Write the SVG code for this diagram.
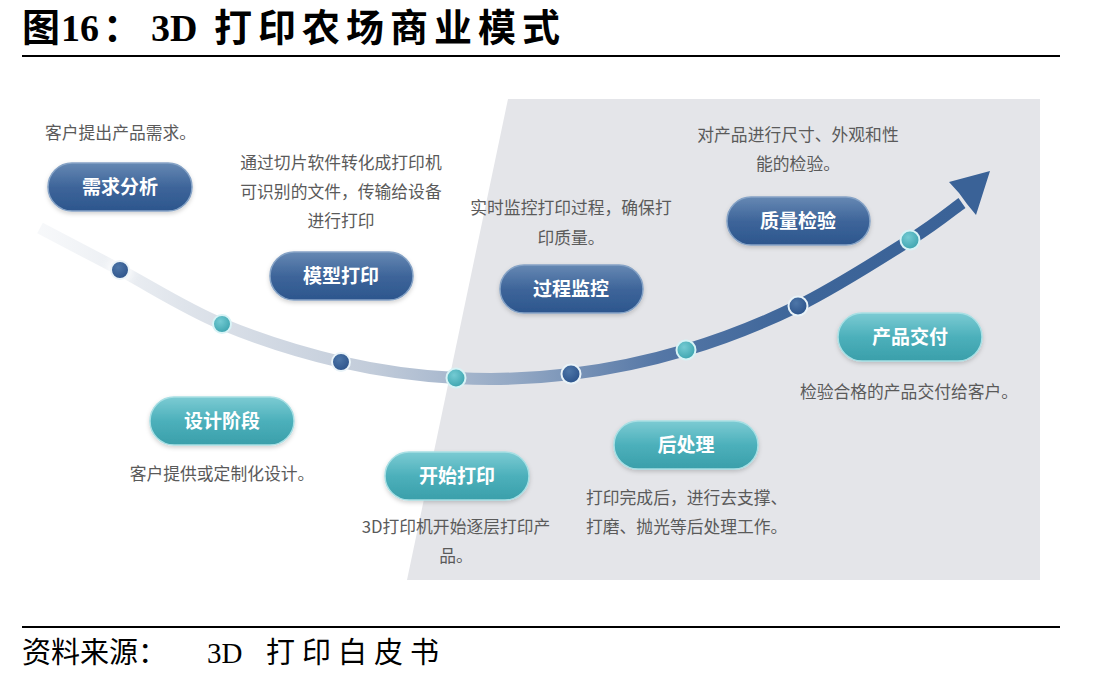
<svg xmlns="http://www.w3.org/2000/svg" width="1108" height="685" viewBox="0 0 1108 685">
<defs>
<style>
.t{font-family:"Noto Sans CJK SC","Liberation Sans",sans-serif;font-size:16.8px;fill:#5a5a5a}
.c{text-anchor:middle}
.p{font-family:"Noto Sans CJK SC","Liberation Sans",sans-serif;font-size:19px;font-weight:bold;fill:#ffffff;text-anchor:middle}
.dk{fill:url(#gDark);stroke:#86a3c6;stroke-width:1.5}
.tl{fill:url(#gTeal);stroke:#a8dfe4;stroke-width:1.5}
.dd{fill:url(#dDark);stroke:#e9f3f8;stroke-width:2}
.dt{fill:url(#dTeal);stroke:#d8f3f6;stroke-width:2}
</style>
<linearGradient id="gDark" x1="0" y1="0" x2="0" y2="1">
<stop offset="0" stop-color="#6688b3"/><stop offset="0.5" stop-color="#3e659a"/><stop offset="1" stop-color="#2c568d"/>
</linearGradient>
<linearGradient id="gTeal" x1="0" y1="0" x2="0" y2="1">
<stop offset="0" stop-color="#7ccbd3"/><stop offset="0.5" stop-color="#4cb0bb"/><stop offset="1" stop-color="#3a9faa"/>
</linearGradient>
<radialGradient id="dDark" cx="0.4" cy="0.35" r="0.7">
<stop offset="0" stop-color="#4d76a8"/><stop offset="1" stop-color="#2a5189"/>
</radialGradient>
<radialGradient id="dTeal" cx="0.4" cy="0.35" r="0.7">
<stop offset="0" stop-color="#74cbd3"/><stop offset="1" stop-color="#3aa2ad"/>
</radialGradient>
<linearGradient id="gCurve" gradientUnits="userSpaceOnUse" x1="40" y1="0" x2="990" y2="0">
<stop offset="0" stop-color="#eef1f5" stop-opacity="0.5"/>
<stop offset="0.15" stop-color="#dfe4eb"/>
<stop offset="0.35" stop-color="#c2ccda"/>
<stop offset="0.5" stop-color="#93a8c4"/>
<stop offset="0.65" stop-color="#5577a6"/>
<stop offset="0.8" stop-color="#3d6599"/>
<stop offset="1" stop-color="#3a6297"/>
</linearGradient>
<filter id="sh" x="-20%" y="-30%" width="140%" height="170%">
<feDropShadow dx="0" dy="2" stdDeviation="2" flood-color="#000" flood-opacity="0.18"/>
</filter>
<filter id="glow" x="-50%" y="-50%" width="200%" height="200%">
<feGaussianBlur stdDeviation="4"/>
</filter>
</defs>
<rect width="1108" height="685" fill="#ffffff"/>

<!-- title -->
<g id="title" font-family="'Liberation Serif','Noto Sans CJK SC',serif" font-weight="bold" font-size="38" fill="#000">
<text x="22" y="41">图</text>
<text x="61" y="41">16</text>
<text x="103" y="41">：</text>
<text x="151" y="41">3D</text>
<text x="214" y="41" letter-spacing="6">打印农场商业模式</text>
</g>
<line x1="22" y1="56" x2="1060" y2="56" stroke="#000" stroke-width="2"/>

<!-- gray background -->
<polygon id="bg" points="508,99 1040,99 1040,580 407,580" fill="#e4e5e9"/>

<!-- connectors: curve and arrow -->
<g id="connectors">
<path d="M40,228 C53.3,235 89.7,254 120,270 C150.3,286 185.2,308.7 222,324 C258.8,339.3 302,353 341,362 C380,371 417.7,376 456,378 C494.3,380 532.7,378.7 571,374 C609.3,369.3 648.2,361.3 686,350 C723.8,338.7 760.7,324.3 798,306 C835.3,287.7 882.7,257.2 910,240 C937.3,222.8 953.3,209.2 962,203" fill="none" stroke="url(#gCurve)" stroke-width="12" stroke-linecap="butt"/>
<polygon points="990,171 949,182 959,193 967,204 976,215" fill="#3a6297"/>
</g>

<!-- dots -->
<g id="dots">
<circle cx="120" cy="270" r="13" fill="#fff" opacity="0.8" filter="url(#glow)"/>
<circle class="dd" cx="120" cy="270" r="9"/>
<circle class="dt" cx="222" cy="324" r="9"/>
<circle class="dd" cx="341" cy="362" r="9"/>
<circle class="dt" cx="456" cy="378" r="9.5"/>
<circle class="dd" cx="571" cy="374" r="9.5"/>
<circle class="dt" cx="686" cy="350" r="9.5"/>
<circle class="dd" cx="798" cy="306" r="9.5"/>
<circle class="dt" cx="910" cy="240" r="9.5"/>
</g>

<!-- nodes -->
<g id="n1">
<text class="t" x="45" y="139">客户提出产品需求。</text>
<rect class="dk" x="48" y="163" width="144" height="48" rx="24" filter="url(#sh)"/>
<text class="p" x="120" y="194">需求分析</text>
</g>
<g id="n2">
<rect class="tl" x="150" y="397" width="144" height="48" rx="24" filter="url(#sh)"/>
<text class="p" x="222" y="428">设计阶段</text>
<text class="t c" x="222" y="480">客户提供或定制化设计。</text>
</g>
<g id="n3">
<text class="t c" x="341" y="169">通过切片软件转化成打印机</text>
<text class="t c" x="341" y="198">可识别的文件，传输给设备</text>
<text class="t c" x="341" y="227">进行打印</text>
<rect class="dk" x="270" y="252" width="143" height="48" rx="24" filter="url(#sh)"/>
<text class="p" x="341" y="283">模型打印</text>
</g>
<g id="n4">
<rect class="tl" x="385" y="452" width="144" height="48" rx="24" filter="url(#sh)"/>
<text class="p" x="457" y="483">开始打印</text>
<text class="t c" x="456" y="533">3D打印机开始逐层打印产</text>
<text class="t c" x="456" y="562">品。</text>
</g>
<g id="n5">
<text class="t c" x="571" y="214">实时监控打印过程，确保打</text>
<text class="t c" x="571" y="244">印质量。</text>
<rect class="dk" x="500" y="265" width="143" height="48" rx="24" filter="url(#sh)"/>
<text class="p" x="571" y="296">过程监控</text>
</g>
<g id="n6">
<rect class="tl" x="614" y="421" width="144" height="48" rx="24" filter="url(#sh)"/>
<text class="p" x="686" y="452">后处理</text>
<text class="t" x="586" y="504">打印完成后，进行去支撑、</text>
<text class="t" x="586" y="533">打磨、抛光等后处理工作。</text>
</g>
<g id="n7">
<text class="t c" x="798" y="141">对产品进行尺寸、外观和性</text>
<text class="t c" x="798" y="170">能的检验。</text>
<rect class="dk" x="727" y="197" width="143" height="48" rx="24" filter="url(#sh)"/>
<text class="p" x="798" y="228">质量检验</text>
</g>
<g id="n8">
<rect class="tl" x="838" y="313" width="144" height="48" rx="24" filter="url(#sh)"/>
<text class="p" x="910" y="344">产品交付</text>
<text class="t c" x="909" y="398">检验合格的产品交付给客户。</text>
</g>

<!-- footer -->
<line x1="22" y1="627" x2="1060" y2="627" stroke="#000" stroke-width="2"/>
<g id="footer" font-family="'Liberation Serif','Noto Sans CJK SC',serif" font-size="29" fill="#000">
<text x="22" y="663">资料来源：</text>
<text x="207" y="663">3D</text>
<text x="266" y="663" letter-spacing="7">打印白皮书</text>
</g>
</svg>
